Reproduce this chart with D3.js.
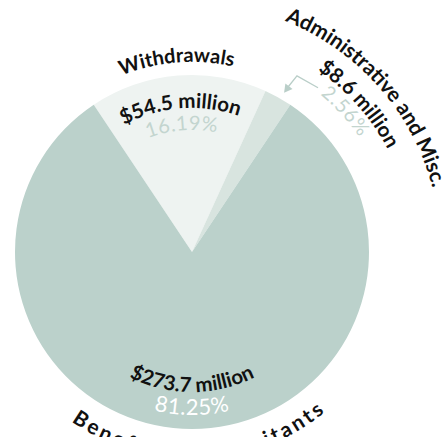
<!DOCTYPE html>
<html>
<head>
<meta charset="utf-8">
<script src="https://cdn.jsdelivr.net/npm/d3@7"></script>
<style>
  html, body { margin: 0; padding: 0; background: #ffffff; overflow: hidden; }
  text { font-family: "Lato", "DejaVu Sans", sans-serif; }
</style>
</head>
<body>
<svg id="chart" width="448" height="437"></svg>
<script>
// Pension fund expenditures, in millions of dollars
const categories    = ["Withdrawals", "Administrative and Misc.", "Benefits to Annuitants"];
const amounts       = [54.5, 8.6, 273.7];
const amountLabels  = ["$54.5 million", "$8.6 million", "$273.7 million"];
const percentLabels = ["16.19%", "2.56%", "81.25%"];
const sliceColors   = ["#eef3f1", "#d8e4df", "#bbd1cb"];

const width = 448, height = 437;
const cx = 192, cy = 252, radius = 177;
const deg = Math.PI / 180;

const svg = d3.select("#chart");
const defs = svg.append("defs");
const g = svg.append("g").attr("transform", `translate(${cx},${cy})`);

// Centre the two smaller slices on the top of the circle
const total = d3.sum(amounts);
const start = -Math.PI * (amounts[0] + amounts[1]) / total;
const pie = d3.pie().sort(null).value(d => d).startAngle(start).endAngle(start + 2 * Math.PI);
const arcs = pie(amounts);
const arc = d3.arc().innerRadius(0).outerRadius(radius);

g.selectAll("path.slice")
  .data(arcs)
  .join("path")
  .attr("class", "slice")
  .attr("d", arc)
  .attr("fill", (d, i) => sliceColors[i]);

// polar helper: angle measured clockwise from 12 o'clock
function polar(r, a) { return [r * Math.sin(a), -r * Math.cos(a)]; }

// circular path between two angles; a1 < a0 runs counter-clockwise (for bottom text)
function arcPath(r, a0, a1) {
  const p0 = polar(r, a0), p1 = polar(r, a1);
  const sweep = a1 > a0 ? 1 : 0;
  const large = Math.abs(a1 - a0) > Math.PI ? 1 : 0;
  return `M${p0[0]},${p0[1]} A${r},${r} 0 ${large} ${sweep} ${p1[0]},${p1[1]}`;
}

let pathId = 0;
function curvedText(text, r, mid, span, bottom, size, weight, fill, spacing) {
  const id = "tp" + (pathId++);
  const a0 = bottom ? mid + span : mid - span;
  const a1 = bottom ? mid - span : mid + span;
  defs.append("path").attr("id", id)
    .attr("d", arcPath(r, a0, a1))
    .attr("transform", `translate(${cx},${cy})`);
  svg.append("text")
    .attr("font-size", size)
    .attr("font-weight", weight)
    .attr("fill", fill)
    .attr("letter-spacing", spacing || 0)
    .append("textPath")
    .attr("href", "#" + id)
    .attr("startOffset", "50%")
    .attr("text-anchor", "middle")
    .text(text);
}

const mid = d => (d.startAngle + d.endAngle) / 2;
const ink = "#111111", pctInk = "#c3d5cf";

// Withdrawals
const w = arcs[0], wm = mid(w);
curvedText(categories[0],   190, wm, 60 * deg, false, 20, 700, ink);
curvedText(amountLabels[0], 144, wm, 70 * deg, false, 20.5, 700, ink);
curvedText(percentLabels[0], 122, wm, 60 * deg, false, 20, 400, pctInk, 0.5);

// Administrative and Misc. — labelled outside the circle, with a pointer
const a = arcs[1], am = 48.5 * deg;
curvedText(categories[1],   249, am, 60 * deg, false, 21, 700, ink);
curvedText(amountLabels[1], 221, am, 60 * deg, false, 20.5, 700, ink);
curvedText(percentLabels[1], 203, am - 1 * deg, 60 * deg, false, 19.5, 400, pctInk, 1);

const pointer = [polar(207, 37.5 * deg), polar(205, 30.8 * deg), polar(189, mid(a) + 1 * deg)];
g.append("path")
  .attr("d", d3.line()(pointer))
  .attr("fill", "none")
  .attr("stroke", "#b9cec8")
  .attr("stroke-width", 1.3);
// arrow head at the slice end of the pointer
{
  const tip = polar(184, mid(a) + 0.9 * deg);
  const from = pointer[1];
  const ang = Math.atan2(tip[1] - from[1], tip[0] - from[0]);
  const L = 8, Wd = 4.5;
  const bx = tip[0] - L * Math.cos(ang), by = tip[1] - L * Math.sin(ang);
  const nx = -Math.sin(ang), ny = Math.cos(ang);
  g.append("path")
    .attr("d", `M${tip[0]},${tip[1]} L${bx + nx * Wd},${by + ny * Wd} L${bx - nx * Wd},${by - ny * Wd} Z`)
    .attr("fill", "#b9cec8");
}

// Benefits to Annuitants — labelled along the bottom of the circle
const b = arcs[2], bm = mid(b);
curvedText(amountLabels[2], 140, bm, 60 * deg, true, 20.5, 700, ink);
curvedText(percentLabels[2], 163, bm, 40 * deg, true, 22, 400, "#ffffff", 0.5);
curvedText(categories[2],   208, bm - 2.5 * deg, 75 * deg, true, 21, 700, ink, 3);
</script>
</body>
</html>
